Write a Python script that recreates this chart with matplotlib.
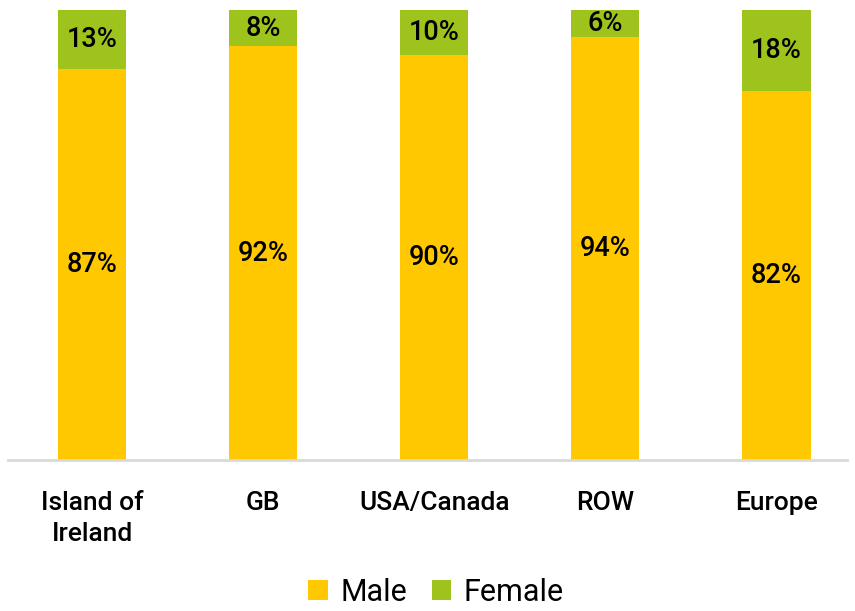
import matplotlib.pyplot as plt
import numpy as np

plt.rcParams['font.family'] = ['Roboto', 'DejaVu Sans']

regions = ['Island of\nIreland', 'GB', 'USA/Canada', 'ROW', 'Europe']
male = [87, 92, 90, 94, 82]
female = [13, 8, 10, 6, 18]

c_male = '#FFC800'
c_female = '#9DC31C'

fig = plt.figure(figsize=(8.55, 6.11), dpi=100)
ax = fig.add_axes([0, 0.2471, 1, 0.7365])

x = np.arange(len(regions))
m = np.array(male) / 100
f = np.array(female) / 100
ax.bar(x, m, width=0.4, color=c_male, label='Male')
ax.bar(x, f, width=0.4, bottom=m, color=c_female, label='Female')

for i in range(len(regions)):
    ax.text(x[i], m[i] / 2, f'{male[i]}%', ha='center', va='center',
            fontsize=19.5, fontweight='medium')
    ax.text(x[i], m[i] + f[i] / 2, f'{female[i]}%', ha='center', va='center',
            fontsize=19.5, fontweight='medium')

ax.set_xlim(-0.538, 4.46)
ax.set_ylim(0, 1)
ax.set_xticks(x)
ax.set_xticklabels(regions, fontsize=19, fontweight='medium', linespacing=1.4)
ax.tick_params(axis='x', length=0, pad=22)
ax.set_yticks([])
for s in ['top', 'right', 'left']:
    ax.spines[s].set_visible(False)
ax.spines['bottom'].set_color('#D9D9D9')
ax.spines['bottom'].set_linewidth(2)
ax.spines['bottom'].set_bounds(-0.491, 4.415)

fig.legend(loc='lower center', bbox_to_anchor=(0.51, -0.038), ncol=2, frameon=False,
           fontsize=22, handlelength=0.65, handleheight=0.65, handletextpad=0.4,
           columnspacing=0.8)

fig.savefig('out.png', dpi=100)
